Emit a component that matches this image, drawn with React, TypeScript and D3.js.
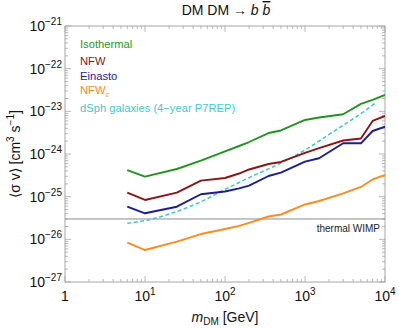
import React, { useRef, useEffect } from "react";
import * as d3 from "d3";

// DM mass grid [GeV]
const masses = [6, 10, 25, 50, 100, 150, 200, 350, 500, 1000, 1500, 3000, 5000, 7000, 10000];

// <sigma v> limits [cm^3 s^-1]
const isothermal = [4.2e-25, 2.94e-25, 4.45e-25, 6.97e-25, 1.15e-24, 1.54e-24, 1.91e-24, 3.1e-24, 3.56e-24, 6.27e-24, 7.18e-24, 8.53e-24, 1.49e-23, 1.85e-23, 2.42e-23];
const nfw = [1.24e-25, 8.36e-26, 1.24e-25, 2.37e-25, 2.74e-25, 3.49e-25, 4.34e-25, 5.83e-25, 6.5e-25, 1.06e-24, 1.38e-24, 2.07e-24, 2.31e-24, 5.94e-24, 7.78e-24];
const einasto = [5.82e-26, 4.08e-26, 5.82e-26, 1.14e-25, 1.32e-25, 1.57e-25, 1.81e-25, 3.05e-25, 3.65e-25, 6.6e-25, 7.93e-25, 1.78e-24, 1.78e-24, 3.46e-24, 4.37e-24];
const nfwC = [8.34e-27, 5.62e-27, 8.81e-27, 1.33e-26, 1.75e-26, 2.06e-26, 2.42e-26, 3.43e-26, 3.82e-26, 6.56e-26, 7.92e-26, 1.19e-25, 1.69e-25, 2.53e-25, 3.22e-25];

// Fermi dSph limit (smooth curve)
const dsphMasses = [6, 10, 25, 50, 100, 200, 500, 1000, 2000, 5000, 7500];
const dsph = [2.38e-26, 2.74e-26, 4.5e-26, 7.62e-26, 1.47e-25, 2.79e-25, 6.15e-25, 1.24e-24, 2.88e-24, 8.85e-24, 1.54e-23];

const thermalWimp = 3e-26;

const xTickExps = [0, 1, 2, 3, 4];
const yTickExps = [-27, -26, -25, -24, -23, -22, -21];

const series = [
  { name: "Isothermal", values: isothermal, color: "#1f951f" },
  { name: "NFW", values: nfw, color: "#8b1515" },
  { name: "Einasto", values: einasto, color: "#1c1c96" },
  { name: "NFW", sub: "c", values: nfwC, color: "#ff8a1e" },
];

const FONT = "'Liberation Sans', Arial, sans-serif";

const Chart = ({ width = 399, height = 329 }) => {
  const svgRef = useRef(null);

  useEffect(() => {
    const svg = d3.select(svgRef.current);
    svg.selectAll("*").remove();

    const left = 65, right = 385, top = 26, bottom = 282;

    const x = d3.scaleLog().domain([1, 1e4]).range([left, right]);
    const y = d3.scaleLog().domain([1e-27, 1e-21]).range([bottom, top]);

    const frameColor = "#a6a6a6";

    // minor / major ticks
    const g = svg.append("g");
    const xMinor = [];
    for (let e = 0; e < 4; e++) for (let k = 2; k <= 9; k++) xMinor.push(k * Math.pow(10, e));
    const yMinor = [];
    for (let e = -27; e < -21; e++) for (let k = 2; k <= 9; k++) yMinor.push(k * Math.pow(10, e));

    const tick = (x1, y1, x2, y2) =>
      g.append("line").attr("x1", x1).attr("y1", y1).attr("x2", x2).attr("y2", y2)
        .attr("stroke", frameColor).attr("stroke-width", 0.8);

    xTickExps.forEach(e => {
      const px = x(Math.pow(10, e));
      tick(px, bottom, px, bottom - 6);
      tick(px, top, px, top + 6);
    });
    xMinor.forEach(v => {
      const px = x(v);
      tick(px, bottom, px, bottom - 3);
      tick(px, top, px, top + 3);
    });
    yTickExps.forEach(e => {
      const py = y(Math.pow(10, e));
      tick(left, py, left + 6, py);
      tick(right, py, right - 6, py);
    });
    yMinor.forEach(v => {
      const py = y(v);
      tick(left, py, left + 3, py);
      tick(right, py, right - 3, py);
    });

    svg.append("rect")
      .attr("x", left).attr("y", top)
      .attr("width", right - left).attr("height", bottom - top)
      .attr("fill", "none").attr("stroke", frameColor).attr("stroke-width", 1);

    // tick labels
    xTickExps.forEach(e => {
      const t = svg.append("text")
        .attr("x", x(Math.pow(10, e)))
        .attr("y", 301)
        .attr("text-anchor", "middle")
        .attr("font-family", FONT)
        .attr("font-size", 14)
        .attr("fill", "#111");
      if (e === 0) {
        t.text("1");
      } else {
        t.append("tspan").text("10");
        t.append("tspan").attr("dy", -6).attr("font-size", 10).text(e);
      }
    });
    yTickExps.forEach(e => {
      const t = svg.append("text")
        .attr("x", 62)
        .attr("y", y(Math.pow(10, e)) + 5)
        .attr("text-anchor", "end")
        .attr("font-family", FONT)
        .attr("font-size", 14)
        .attr("fill", "#111");
      t.append("tspan").text("10");
      t.append("tspan").attr("dy", -6).attr("font-size", 10).text("\u2212" + Math.abs(e));
    });

    // thermal WIMP line
    svg.append("line")
      .attr("x1", left).attr("x2", right)
      .attr("y1", y(thermalWimp)).attr("y2", y(thermalWimp))
      .attr("stroke", "#8c8c8c").attr("stroke-width", 1);
    svg.append("text")
      .attr("x", 380).attr("y", y(thermalWimp) + 13)
      .attr("text-anchor", "end")
      .attr("font-family", FONT).attr("font-size", 10)
      .attr("fill", "#222")
      .text("thermal WIMP");

    const line = d3.line()
      .x(d => x(d[0]))
      .y(d => y(d[1]));

    const clip = svg.append("clipPath").attr("id", "plotclip");
    clip.append("rect").attr("x", left).attr("y", top).attr("width", right - left).attr("height", bottom - top);
    const plot = svg.append("g").attr("clip-path", "url(#plotclip)");

    plot.append("path")
      .datum(dsphMasses.map((m, i) => [m, dsph[i]]))
      .attr("d", line.curve(d3.curveMonotoneX))
      .attr("fill", "none")
      .attr("stroke", "#45c9cc")
      .attr("stroke-width", 1.6)
      .attr("stroke-dasharray", "4 2.5");

    const plain = d3.line().x(d => x(d[0])).y(d => y(d[1]));
    series.slice().reverse().forEach(s => {
      plot.append("path")
        .datum(masses.map((m, i) => [m, s.values[i]]))
        .attr("d", plain)
        .attr("fill", "none")
        .attr("stroke", s.color)
        .attr("stroke-width", 1.9)
        .attr("stroke-linejoin", "round");
    });

    // legend
    const legendY = [44, 61, 76, 90];
    series.forEach((s, i) => {
      const t = svg.append("text")
        .attr("x", 80).attr("y", legendY[i] + 4)
        .attr("font-family", FONT).attr("font-size", 11.2)
        .attr("fill", s.color);
      t.append("tspan").text(s.name);
      if (s.sub) t.append("tspan").attr("dy", 3).attr("font-size", 7.5).attr("font-style", "italic").text(s.sub);
    });
    svg.append("text")
      .attr("x", 80).attr("y", 112)
      .attr("font-family", FONT).attr("font-size", 11.2)
      .attr("fill", "#45c9cc")
      .text("dSph galaxies (4\u2212year P7REP)");

    // title
    const title = svg.append("text")
      .attr("x", 226).attr("y", 15)
      .attr("text-anchor", "middle")
      .attr("font-family", FONT).attr("font-size", 14)
      .attr("fill", "#111");
    title.append("tspan").text("DM DM \u2192 ");
    title.append("tspan").attr("font-style", "italic").text("b ");
    title.append("tspan").attr("font-style", "italic").attr("text-decoration", "overline").text("b");

    // axis labels
    const xl = svg.append("text")
      .attr("x", 225).attr("y", 322)
      .attr("text-anchor", "middle")
      .attr("font-family", FONT).attr("font-size", 14)
      .attr("fill", "#111");
    xl.append("tspan").attr("font-style", "italic").text("m");
    xl.append("tspan").attr("dy", 3).attr("font-size", 10).text("DM");
    xl.append("tspan").attr("dy", -3).text(" [GeV]");

    const yl = svg.append("text")
      .attr("transform", "translate(20,154) rotate(-90)")
      .attr("text-anchor", "middle")
      .attr("font-family", FONT).attr("font-size", 14)
      .attr("fill", "#111");
    yl.append("tspan").text("\u27E8\u03C3 v\u27E9 [cm");
    yl.append("tspan").attr("dy", -6).attr("font-size", 10).text("3");
    yl.append("tspan").attr("dy", 6).text(" s");
    yl.append("tspan").attr("dy", -6).attr("font-size", 10).text("\u22121");
    yl.append("tspan").attr("dy", 6).text("]");
  }, [width, height]);

  return (
    <svg
      ref={svgRef}
      width={width}
      height={height}
      style={{ position: "absolute", left: 0, top: 0, background: "#fff" }}
    ></svg>
  );
};

export default function App() {
  return <Chart />;
}
